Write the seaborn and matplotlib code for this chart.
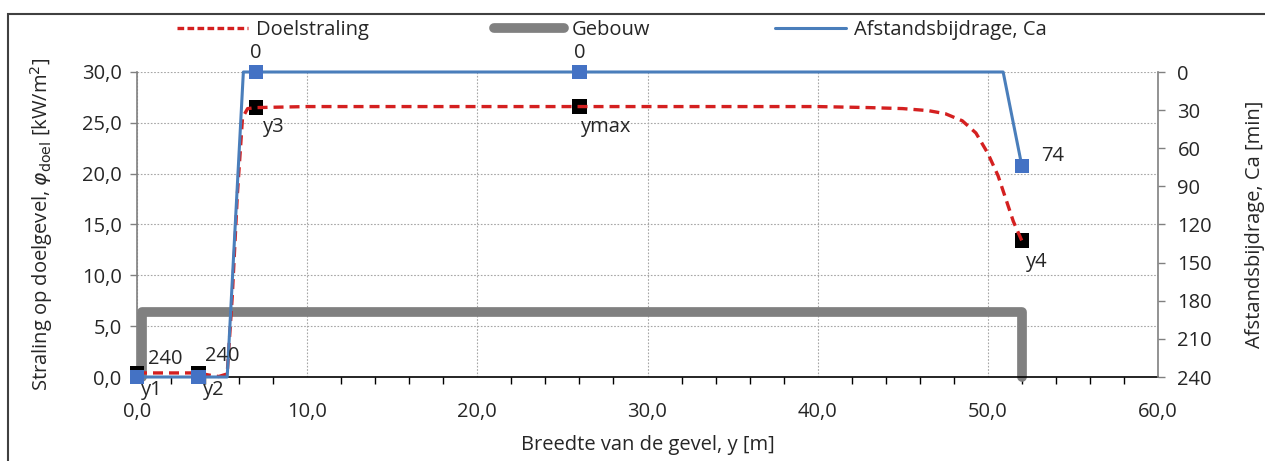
import numpy as np
import pandas as pd
import matplotlib
matplotlib.use("Agg")
import matplotlib.pyplot as plt
import seaborn as sns
from matplotlib.patches import Rectangle
from matplotlib.lines import Line2D
from matplotlib.ticker import MultipleLocator, FuncFormatter

# ---- data ----
doel_x = [0, 1, 2, 3, 3.6, 4.2, 4.8, 5.3, 5.6, 5.9, 6.2, 6.5, 7, 10, 20, 26, 35, 40, 43, 45, 46.5, 47.5, 48.5, 49.3, 50.0, 50.6, 51.1, 51.5, 52]
doel_y = [0.4, 0.4, 0.4, 0.4, 0.4, 0.2, 0.05, 0.3, 8.0, 18.0, 25.5, 26.4, 26.5, 26.6, 26.6, 26.6, 26.6, 26.6, 26.5, 26.4, 26.2, 25.9, 25.2, 24.0, 22.0, 19.8, 17.3, 15.3, 13.4]

gebouw_x = [0.3, 0.3, 52, 52]
gebouw_y = [0, 6.4, 6.4, 0]

ca_x = [0, 3.6, 5.3, 6.25, 7, 26, 50.9, 52]
ca_y = [240, 240, 240, 0, 0, 0, 0, 74]

pt_x = [0, 3.6, 7, 26, 52]
pt_doel = [0.4, 0.4, 26.5, 26.6, 13.4]
pt_names = ["y1", "y2", "y3", "ymax", "y4"]
pt_ca = [240, 240, 0, 0, 74]

sns.set_theme(style="white")
plt.rcParams['font.family'] = ['Open Sans', 'DejaVu Sans']
FS = 14.5

fig = plt.figure(figsize=(12.65, 4.61), dpi=100)
ax = fig.add_axes([137/1265, 1-377/461, (1158-137)/1265, (377-72)/461])
ax2 = ax.twinx()

RED = '#d42020'
GRAY = '#808080'
BLUE = '#4a7ebb'

# building
sns.lineplot(x=gebouw_x, y=gebouw_y, sort=False, estimator=None, ax=ax, color=GRAY, lw=7,
             solid_joinstyle='round', solid_capstyle='round', zorder=2, clip_on=False)
# doelstraling
sns.lineplot(x=doel_x, y=doel_y, sort=False, estimator=None, ax=ax, color=RED, lw=2.4,
             linestyle=(0, (3, 1.8)), zorder=4, clip_on=False)
sns.scatterplot(x=pt_x, y=pt_doel, ax=ax, marker='s', s=110, color='black',
                edgecolor='none', zorder=3, clip_on=False)
# Ca
sns.lineplot(x=ca_x, y=ca_y, sort=False, estimator=None, ax=ax2, color=BLUE, lw=2.2, zorder=4,
             clip_on=False)
sns.scatterplot(x=pt_x, y=pt_ca, ax=ax2, marker='s', s=110, color='#4472c4',
                edgecolor='none', zorder=5, clip_on=False)

ax.set_xlim(0, 60)
ax.set_ylim(0, 30)
ax2.set_ylim(240, 0)

comma = FuncFormatter(lambda v, p: f"{v:.1f}".replace('.', ','))
ax.xaxis.set_major_locator(MultipleLocator(10))
ax.xaxis.set_minor_locator(MultipleLocator(2))
ax.yaxis.set_major_locator(MultipleLocator(5))
ax.xaxis.set_major_formatter(comma)
ax.yaxis.set_major_formatter(comma)
ax2.yaxis.set_major_locator(MultipleLocator(30))

ax.grid(True, which='major', color='#a6a6a6', linestyle=(0, (1.5, 1.5)), lw=0.8)
ax.tick_params(axis='x', which='major', direction='inout', length=8, width=1, color='black',
               labelsize=FS, pad=14)
ax.tick_params(axis='x', which='minor', direction='out', length=5, width=1, color='black', bottom=True)
ax.tick_params(axis='y', direction='out', length=5, width=1, color='#808080', labelsize=FS, left=True, pad=6)
ax2.tick_params(axis='y', direction='out', length=5, width=1, color='#808080', labelsize=FS, right=True, pad=9)

for s in ['top']:
    ax.spines[s].set_visible(False)
    ax2.spines[s].set_visible(False)
ax2.spines['left'].set_visible(False)
ax2.spines['bottom'].set_visible(False)
ax.spines['right'].set_visible(False)
ax.spines['left'].set_color('#808080')
ax.spines['bottom'].set_color('black')
ax2.spines['right'].set_color('#808080')
for s in ax.spines.values():
    s.set_linewidth(1.2)
ax2.spines['right'].set_linewidth(1.2)

ax.set_xlabel("Breedte van de gevel, y [m]", fontsize=FS, labelpad=9)
ax.set_ylabel(r"Straling op doelgevel, $\varphi_{\mathrm{doel}}$ [kW/m$^2$]", fontsize=FS, labelpad=19)
ax2.set_ylabel("Afstandsbijdrage, Ca [min]", fontsize=FS, labelpad=24)

# labels
lbl_off = [(3, -12), (3, -12), (5, -14), (1, -15), (3, -15)]
for xv, yv, nm, (dx, dy) in zip(pt_x, pt_doel, pt_names, lbl_off):
    ax.annotate(nm, (xv, yv), xytext=(dx, dy), textcoords='offset points',
                fontsize=FS, ha='left', va='center', zorder=10)
ca_off = [(8, 13), (5, 15), (0, 14), (0, 14), (14, 7)]
ca_ha = ['left', 'left', 'center', 'center', 'left']
for xv, yv, (dx, dy), ha in zip(pt_x, pt_ca, ca_off, ca_ha):
    ax2.annotate(str(yv), (xv, yv), xytext=(dx, dy), textcoords='offset points',
                 fontsize=FS, ha=ha, va='center', zorder=10)

handles = [Line2D([], [], color=RED, lw=2.4, linestyle=(0, (2, 1))),
           Line2D([], [], color=GRAY, lw=7, solid_capstyle='round'),
           Line2D([], [], color=BLUE, lw=2.2)]
fig.legend(handles, ["Doelstraling", "Gebouw", "Afstandsbijdrage, Ca"], ncol=3,
           loc='center', bbox_to_anchor=(612/1265, 1-30/461), frameon=False,
           fontsize=FS, handlelength=3.5, handletextpad=0.4, columnspacing=6.2)

fig.add_artist(Rectangle((8/1265, -0.2), 1.2, 1.2 - 14/461, transform=fig.transFigure,
                         fill=False, edgecolor='#404040', lw=1.5))

fig.savefig("out.png", dpi=100)
